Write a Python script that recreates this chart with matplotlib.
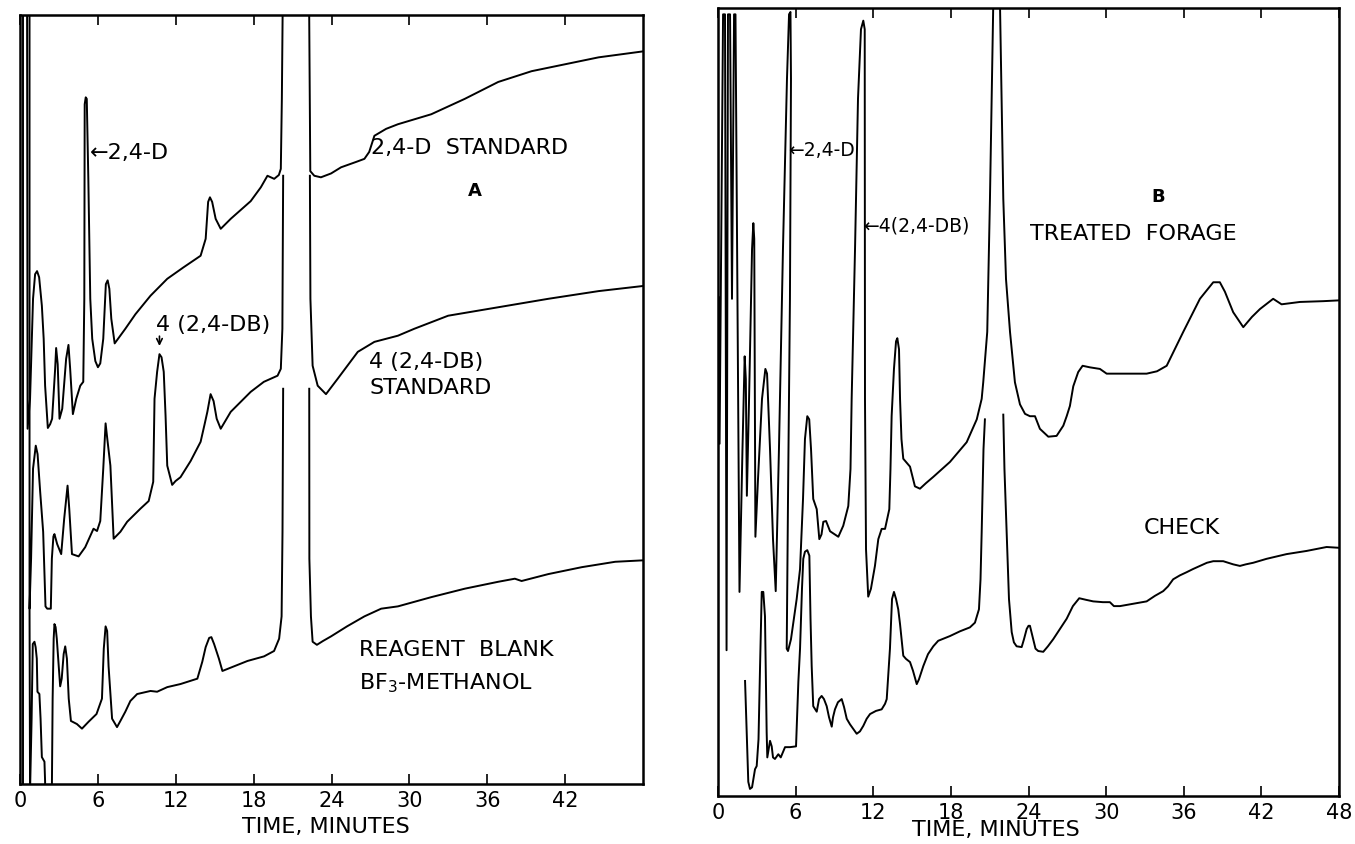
import numpy as np
import matplotlib.pyplot as plt

plt.rcParams['font.family'] = 'DejaVu Sans'

nan = np.nan

# ---- panel A : standards and reagent blank (time in minutes, pen response in % of chart)
a_pen_time = [0.2, 0.2]
a_pen_resp = [-2, 104]

a1_time = [0.54, 0.58, 0.77, 1.0, 1.16, 1.31, 1.47, 1.68, 1.82, 1.93, 2.14, 2.32, 2.47, 2.70, 2.78,
           2.90, 3.04, 3.25, 3.55, 3.73, 3.86, 4.07, 4.33, 4.64, 4.87, 4.95, 4.98, 5.06, 5.14, 5.26,
           5.41, 5.56, 5.80, 6.0, 6.18, 6.41, 6.61, 6.75, 6.88, 7.03, 7.29, 8.11, 8.89, 10.05, 11.34,
           12.6, 13.91, 14.3, 14.49, 14.63, 14.80, 15.07, 15.46, 16.23, 17.77, 18.55, 19.06, 19.58,
           19.94, 20.09, 20.17, 20.25, 22.26, 22.36, 22.67, 23.18, 23.96, 24.73, 25.89, 26.53, 26.9,
           27.30, 28.2, 29.11, 31.68, 34.26, 36.84, 39.41, 41.99, 44.57, 48.1]
a1_resp = [104, 46.2, 50.1, 63.1, 66.3, 66.7, 65.9, 62.2, 57.9, 51.8, 46.3, 46.8, 47.5, 53.9, 56.7,
           54.6, 47.5, 48.8, 55.3, 57.1, 54.0, 48.1, 50.1, 51.8, 52.3, 63.1, 88.4, 89.3, 89.1, 78.7,
           63.1, 57.9, 55.0, 54.2, 54.7, 57.9, 65.0, 65.5, 64.4, 60.5, 57.3, 59.2, 61.1, 63.5, 65.7,
           67.2, 68.7, 70.9, 75.7, 76.3, 75.7, 73.5, 72.2, 73.5, 75.8, 77.6, 79.1, 78.7,
           79.2, 80.0, 89.1, 104, 104, 79.7, 79.1, 78.9, 79.4, 80.2, 80.9, 81.3, 82.2,
           84.3, 85.2, 85.8, 87.1, 89.1, 91.3, 92.7, 93.6, 94.5, 95.3]

a2_time = [0.73, 0.73, 0.85, 1.0, 1.21, 1.35, 1.55, 1.78, 1.96, 2.09, 2.37, 2.45, 2.57, 2.65, 2.86,
           3.17, 3.40, 3.66, 3.79, 4.0, 4.51, 5.02, 5.66, 5.93, 6.18, 6.41, 6.59, 6.72, 6.96, 7.21,
           7.73, 8.25, 9.27, 9.91, 10.26, 10.36, 10.56, 10.74, 10.90, 11.07, 11.21, 11.34, 11.72,
           11.98, 12.36, 13.14, 13.91, 14.22, 14.43, 14.68, 14.91, 15.15, 15.46, 16.23, 17.77, 18.78,
           19.84, 20.09, 20.21, 20.27, nan, 22.33, 22.37, 22.54, 22.93, 23.57, 24.47, 26.02, 27.30,
           29.11, 30.37, 32.98, 36.84, 40.70, 44.57, 48.17]
a2_resp = [104, 22.8, 29.3, 41.0, 44.0, 42.9, 38.0, 32.8, 23.1, 22.8, 22.8, 29.3, 32.2, 32.5, 31.2,
           29.9, 34.5, 38.8, 35.8, 29.9, 29.6, 30.8, 33.2, 32.9, 34.2, 41.0, 46.9, 44.9, 41.4, 31.9,
           32.8, 34.1, 35.8, 36.8, 39.3, 50.1, 53.6, 55.9, 55.5, 53.6, 47.9, 41.4, 38.9,
           39.4, 39.9, 42.0, 44.5, 46.8, 48.4, 50.7, 49.8, 47.5, 46.2, 48.4, 51.0, 52.3,
           53.1, 54.0, 59.2, 79.1, nan, 79.1, 63.1, 54.4, 51.8, 50.7, 52.7, 56.2, 57.5,
           58.3, 59.2, 60.9, 62.0, 63.1, 64.1, 64.8]

a3_time = [0.73, 0.77, 0.89, 0.98, 1.11, 1.20, 1.29, 1.34, 1.49, 1.58, 1.68, 1.88, 1.93, 1.93, nan,
           2.45, 2.51, 2.59, 2.65, 2.74, 2.83, 3.09, 3.21, 3.36, 3.48, 3.61, 3.75, 3.92, 4.38, 4.77,
           5.28, 5.89, 6.31, 6.45, 6.59, 6.71, 6.82, 7.09, 7.47, 7.73, 8.11, 8.50, 9.02, 10.05, 10.56,
           11.34, 12.36, 13.66, 14.04, 14.30, 14.57, 14.74, 14.95, 15.32, 15.59, 16.48, 17.52, 18.80,
           19.57, 19.96, 20.15, 20.22, 20.27, nan, 22.28, 22.29, 22.41, 22.54, 22.87, 23.34, 23.96,
           25.19, 26.53, 27.82, 29.11, 31.68, 34.26, 36.84, 38.12, 38.64, 40.70, 43.28, 45.85, 48.14]
a3_resp = [22.8, -1, 8.5, 18.2, 18.5, 17.8, 16.3, 12.0, 11.7, 8.5, 3.5, 2.9, 0.3, -1, nan,
           -1, 11.1, 18.9, 20.8, 20.4, 18.9, 12.7, 13.7, 16.9, 17.9, 16.3, 11.1, 8.2, 7.8, 7.2,
           8.1, 9.1, 11.1, 17.6, 20.5, 19.9, 15.3, 8.5, 7.4, 8.2, 9.4, 10.8, 11.7, 12.1, 12.0,
           12.6, 13.0, 13.7, 15.9, 17.8, 19.0, 19.1, 18.2, 16.3, 14.7, 15.3, 16.0, 16.6,
           17.3, 18.9, 21.8, 32.8, 51.4, nan, 51.4, 29.3, 21.8, 18.5, 18.1, 18.6, 19.2,
           20.5, 21.8, 22.8, 23.1, 24.3, 25.4, 26.3, 26.7, 26.4, 27.3, 28.2, 28.9, 29.1]

# ---- panel B : treated forage and check
b1_time = [0.06, 0.12, 0.39, 0.54, 0.66, 0.77, 0.93, 1.08, 1.24, 1.35, 1.66, 1.89, 2.06, 2.15, 2.23,
           2.40, 2.63, 2.73, 2.80, 2.89, 3.09, 3.40, 3.66, 3.79, 4.02, 4.25, 4.46, 4.71, 5.02, 5.33,
           5.49, 5.60, 5.64, 5.56, 5.41, 5.31, 5.41, 5.64, 6.08, 6.34, 6.57, 6.72, 6.90, 7.05, 7.19,
           7.36, 7.63, 7.83, 8.0, 8.14, 8.35, 8.66, 9.30, 9.68, 10.07, 10.24, 10.33, 10.59, 10.82,
           11.05, 11.23, 11.34, 11.36, 11.44, 11.61, 11.82, 12.13, 12.39, 12.65, 12.91, 13.24, 13.33,
           13.42, 13.60, 13.76, 13.86, 13.99, 14.07, 14.18, 14.32, 14.84, 15.22, 15.61, 16.07, 16.64,
           17.93, 19.22, 20.0, 20.38, 20.50, 20.81, 21.02, 21.28, 21.79, 22.05, 22.26, 22.57, 22.95,
           23.34, 23.73, 24.11, 24.50, 24.88, 25.53, 26.17, 26.69, 26.95, 27.20, 27.46, 27.84, 28.18,
           28.75, 29.52, 30.04, 30.76, 31.58, 33.13, 33.93, 34.68, 35.96, 37.25, 38.28, 38.79, 39.18,
           39.82, 40.60, 41.27, 41.89, 42.91, 43.56, 44.98, 46.78, 48.0]
b1_resp = [63.3, 44.7, 99.2, 99.2, 18.5, 99.2, 99.2, 63.1, 99.2, 99.2, 25.9, 44.0, 55.8, 52.9, 38.1,
           50.4, 69.4, 72.7, 70.7, 32.9, 40.2, 50.4, 54.2, 53.6, 44.0, 32.6, 26.0, 44.0, 69.4, 91.0,
           99.2, 99.5, 91.0, 63.1, 37.7, 18.7, 18.4, 19.9, 25.0, 28.8, 37.7, 45.3, 48.2, 47.8, 44.0,
           37.7, 36.4, 32.6, 33.2, 34.8, 34.9, 33.6, 32.9, 34.3, 36.8, 41.5, 50.4, 69.4, 88.5,
           97.3, 98.4, 97.3, 50.4, 31.3, 25.3, 26.3, 29.2, 32.6, 33.9, 33.9, 36.4, 41.5,
           48.2, 54.2, 57.7, 58.1, 56.7, 50.4, 45.3, 42.8, 41.8, 39.3, 39.0, 39.7, 40.5,
           42.4, 44.9, 47.8, 50.4, 52.5, 58.9, 75.8, 101, 101, 75.8, 65.6, 58.9, 52.5,
           49.7, 48.5, 48.2, 48.2, 46.6, 45.6, 45.7, 47.0, 48.2, 49.5, 52.0, 53.8, 54.6,
           54.4, 54.2, 53.6, 53.6, 53.6, 53.6, 53.9, 54.6, 58.9, 63.1, 65.2, 65.2, 64.0,
           61.4, 59.5, 60.8, 61.8, 63.1, 62.4, 62.7, 62.8, 62.9]

b2_time = [2.09, 2.34, 2.47, 2.63, 2.86, 2.99, 3.13, 3.25, 3.38, 3.50, 3.63, 3.76, 3.81, 4.02, 4.15,
           4.25, 4.40, 4.66, 4.85, 5.18, 5.56, 6.03, 6.21, 6.34, 6.49, 6.59, 6.72, 6.90, 7.06, 7.15,
           7.24, 7.36, 7.63, 7.81, 8.01, 8.19, 8.40, 8.58, 8.79, 8.89, 9.04, 9.27, 9.56, 9.74, 9.95,
           10.20, 10.72, 10.97, 11.23, 11.49, 11.75, 12.21, 12.65, 12.91, 13.04, 13.14, 13.29, 13.45,
           13.60, 13.76, 13.93, 14.07, 14.32, 14.53, 14.84, 15.07, 15.36, 15.53, 15.87, 16.23, 16.64,
           17.02, 17.93, 18.70, 19.47, 19.86, 20.17, 20.29, 20.38, 20.52, 20.63, nan, 22.05, 22.14,
           22.31, 22.49, 22.70, 22.87, 23.08, 23.47, 23.65, 23.86, 24.0, 24.11, 24.23, 24.37, 24.54,
           24.75, 25.14, 25.50, 25.91, 26.43, 26.95, 27.43, 27.92, 28.44, 29.0, 29.75, 30.29, 30.60,
           31.07, 32.09, 33.13, 33.77, 34.41, 34.78, 35.18, 35.70, 36.22, 36.71, 37.25, 37.79, 38.28,
           39.05, 39.82, 40.34, 40.80, 41.37, 42.40, 43.95, 45.49, 47.04, 48.0]
b2_resp = [14.6, 1.8, 0.9, 1.1, 3.4, 3.8, 7.2, 16.5, 25.9, 25.9, 22.8, 8.1, 4.9, 7.0, 6.3,
           4.9, 4.7, 5.3, 4.9, 6.2, 6.2, 6.3, 14.5, 18.7, 26.3, 30.1, 31.0, 31.2, 30.5, 22.5,
           16.5, 11.4, 10.7, 12.3, 12.7, 12.3, 11.4, 10.0, 8.8, 10.0, 11.0, 11.9, 12.3, 11.3, 9.8,
           9.1, 7.9, 8.2, 8.9, 9.8, 10.4, 10.8, 11.0, 11.7, 12.3, 14.8, 18.7, 25.0,
           25.9, 25.0, 23.7, 21.8, 17.8, 17.4, 17.0, 15.9, 14.2, 14.8, 16.5, 18.0, 19.0,
           19.7, 20.3, 20.9, 21.4, 22.0, 23.7, 27.5, 33.5, 44.0, 47.8, nan, 48.4, 41.5,
           33.5, 25.0, 20.8, 19.5, 19.0, 18.9, 19.9, 21.2, 21.6, 21.6, 20.8, 19.9, 18.7,
           18.4, 18.3, 19.0, 19.9, 21.2, 22.5, 24.1, 25.1, 24.9, 24.7, 24.6, 24.6, 24.1,
           24.1, 24.4, 24.7, 25.4, 26.0, 26.6, 27.5, 28.0, 28.4, 28.8, 29.2, 29.6, 29.8,
           29.8, 29.4, 29.2, 29.4, 29.6, 30.1, 30.7, 31.1, 31.6, 31.5]

a_ticks = [0, 6, 12, 18, 24, 30, 36, 42]
b_ticks = [0, 6, 12, 18, 24, 30, 36, 42, 48]

fig = plt.figure(figsize=(13.55, 8.45), dpi=100)
axA = fig.add_axes([0.0148, 0.0710, 0.4598, 0.910])
axB = fig.add_axes([0.5299, 0.0568, 0.4583, 0.9325])

for ax, ticks in ((axA, a_ticks), (axB, b_ticks)):
    ax.set_xlim(0, 48)
    ax.set_ylim(0, 100)
    ax.set_xticks(ticks)
    ax.set_xticklabels([str(t) for t in ticks])
    ax.set_yticks([])
    ax.tick_params(axis='x', direction='in', top=True, length=7, width=1.2,
                   labelsize=15, pad=4)
    for s in ax.spines.values():
        s.set_linewidth(1.8)

lw = 1.4
axA.plot(a_pen_time, a_pen_resp, color='black', lw=lw)
axA.plot(a1_time, a1_resp, color='black', lw=lw)
axA.plot(a2_time, a2_resp, color='black', lw=lw)
axA.plot(a3_time, a3_resp, color='black', lw=lw)
axB.plot(b1_time, b1_resp, color='black', lw=lw)
axB.plot(b2_time, b2_resp, color='black', lw=lw)

fs = 16
# panel A labels
axA.text(5.35, 82.2, '\u21902,4-D', fontsize=fs, ha='left', va='center')
axA.text(27.0, 82.8, '2,4-D  STANDARD', fontsize=fs, ha='left', va='center')
axA.text(35.0, 77.2, 'A', fontsize=13, fontweight='bold', ha='center', va='center')
axA.text(10.45, 59.8, '4 (2,4-DB)', fontsize=fs, ha='left', va='center')
axA.annotate('', xy=(10.74, 56.6), xytext=(10.74, 58.6),
             arrowprops=dict(arrowstyle='->', lw=1.2, color='black'))
axA.text(26.9, 55.0, '4 (2,4-DB)', fontsize=fs, ha='left', va='center')
axA.text(26.9, 51.6, 'STANDARD', fontsize=fs, ha='left', va='center')
axA.text(26.1, 17.6, 'REAGENT  BLANK', fontsize=fs, ha='left', va='center')
axA.text(26.1, 13.2, r'BF$_3$-METHANOL', fontsize=fs, ha='left', va='center')
axA.text(0.491, -0.054, 'TIME, MINUTES', fontsize=fs, ha='center', va='center',
         transform=axA.transAxes)

# panel B labels
axB.text(5.45, 82.1, '\u21902,4-D', fontsize=13.5, ha='left', va='center')
axB.text(11.25, 72.5, '\u21904(2,4-DB)', fontsize=13.5, ha='left', va='center')
axB.text(34.0, 76.2, 'B', fontsize=13, fontweight='bold', ha='center', va='center')
axB.text(24.1, 71.5, 'TREATED  FORAGE', fontsize=fs, ha='left', va='center')
axB.text(32.9, 34.1, 'CHECK', fontsize=fs, ha='left', va='center')
axB.text(0.448, -0.042, 'TIME, MINUTES', fontsize=fs, ha='center', va='center',
         transform=axB.transAxes)

fig.savefig('out.png', dpi=100)
